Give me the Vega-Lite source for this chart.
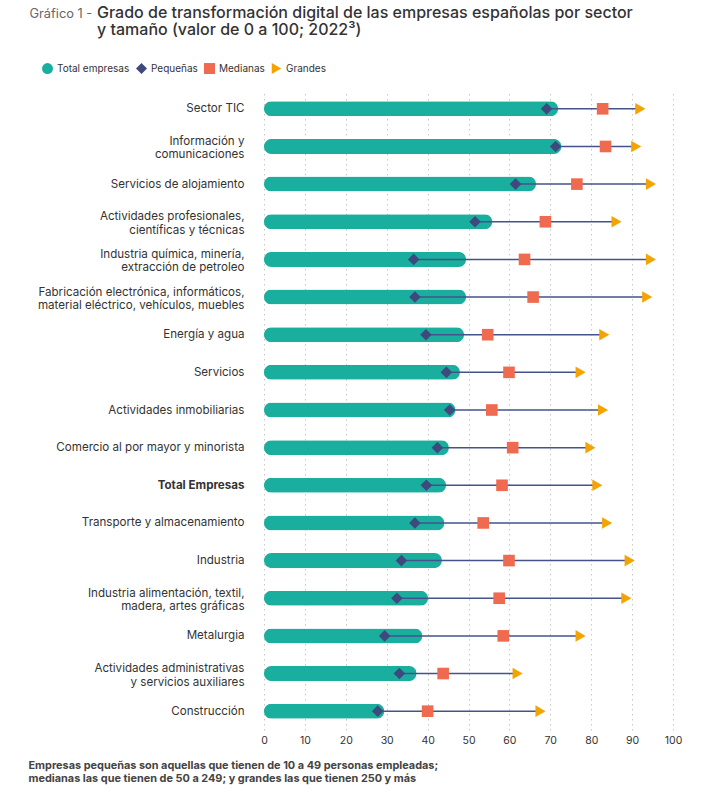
{
  "$schema": "https://vega.github.io/schema/vega-lite/v6.json",
  "autosize": {"type": "none"},
  "padding": {"left": 264, "top": 90, "right": 49, "bottom": 63},
  "width": 409,
  "height": 640,
  "background": "white",
  "config": {"font": "Inter", "view": {"stroke": null}},
  "title": {
    "text": ["Grado de transformación digital de las empresas españolas por sector", "y tamaño (valor de 0 a 100; 2022³)"],
    "anchor": "start",
    "frame": "group",
    "dx": -167,
    "dy": 31,
    "offset": 0,
    "fontSize": 16,
    "fontWeight": 500,
    "color": "#333333",
    "lineHeight": 17.5
  },
  "data": {
    "values": [
      {"sector": "Sector TIC", "total": 71.9, "Pequeñas": 69.1, "Medianas": 82.8, "Grandes": 92.0},
      {"sector": "Información y|comunicaciones", "total": 72.7, "Pequeñas": 71.3, "Medianas": 83.5, "Grandes": 91.0},
      {"sector": "Servicios de alojamiento", "total": 66.5, "Pequeñas": 61.5, "Medianas": 76.5, "Grandes": 94.6},
      {"sector": "Actividades profesionales,|científicas y técnicas", "total": 55.8, "Pequeñas": 51.6, "Medianas": 68.8, "Grandes": 86.2},
      {"sector": "Industria química, minería,|extracción de petroleo", "total": 49.4, "Pequeñas": 36.6, "Medianas": 63.7, "Grandes": 94.6},
      {"sector": "Fabricación electrónica, informáticos,|material eléctrico, vehículos, muebles", "total": 49.4, "Pequeñas": 36.9, "Medianas": 65.8, "Grandes": 93.7},
      {"sector": "Energía y agua", "total": 48.9, "Pequeñas": 39.6, "Medianas": 54.7, "Grandes": 83.2},
      {"sector": "Servicios", "total": 47.9, "Pequeñas": 44.6, "Medianas": 59.9, "Grandes": 77.4},
      {"sector": "Actividades inmobiliarias", "total": 46.8, "Pequeñas": 45.4, "Medianas": 55.7, "Grandes": 82.9},
      {"sector": "Comercio al por mayor y minorista", "total": 45.2, "Pequeñas": 42.4, "Medianas": 60.8, "Grandes": 79.8},
      {"sector": "Total Empresas", "total": 44.5, "Pequeñas": 39.7, "Medianas": 58.2, "Grandes": 81.5},
      {"sector": "Transporte y almacenamiento", "total": 44.1, "Pequeñas": 36.9, "Medianas": 53.6, "Grandes": 83.9},
      {"sector": "Industria", "total": 43.5, "Pequeñas": 33.6, "Medianas": 59.9, "Grandes": 89.4},
      {"sector": "Industria alimentación, textil,|madera, artes gráficas", "total": 40.1, "Pequeñas": 32.5, "Medianas": 57.5, "Grandes": 88.6},
      {"sector": "Metalurgia", "total": 38.7, "Pequeñas": 29.5, "Medianas": 58.5, "Grandes": 77.4},
      {"sector": "Actividades administrativas|y servicios auxiliares", "total": 37.3, "Pequeñas": 33.1, "Medianas": 43.8, "Grandes": 62.0},
      {"sector": "Construcción", "total": 29.4, "Pequeñas": 27.8, "Medianas": 40.0, "Grandes": 67.6}
    ]
  },
  "encoding": {
    "y": {
      "field": "sector",
      "type": "nominal",
      "sort": null,
      "scale": {"paddingInner": 0, "paddingOuter": 0},
      "axis": {
        "title": "Gráfico 1 -",
        "titleX": -235,
        "titleY": -73,
        "titleAngle": 0,
        "titleAlign": "left",
        "titleBaseline": "alphabetic",
        "titleFontSize": 12.8,
        "titleFontWeight": "normal",
        "titleColor": "#666666",
        "labelFontSize": 11.6,
        "labelColor": "#333333",
        "labelPadding": 20,
        "labelLimit": 260,
        "labelLineHeight": 13.5,
        "labelExpr": "split(datum.label, '|')",
        "labelOffset": {"condition": {"test": "indexof(datum.value, '|') >= 0", "value": -4.5}, "value": 0.5},
        "labelFontWeight": {"condition": {"test": "datum.value == 'Total Empresas'", "value": "bold"}, "value": "normal"},
        "domain": false,
        "ticks": false,
        "grid": false
      }
    }
  },
  "layer": [
    {
      "mark": {"type": "bar", "height": 15, "cornerRadius": 7.5, "color": "#1aae9e"},
      "encoding": {
        "x": {
          "field": "total",
          "type": "quantitative",
          "scale": {"domain": [0, 100], "nice": false},
          "axis": {
            "values": [0, 10, 20, 30, 40, 50, 60, 70, 80, 90, 100],
            "grid": true,
            "gridDash": [1.5, 3.5],
            "gridColor": "#c8c8c8",
            "gridWidth": 1,
            "domain": false,
            "ticks": false,
            "labelFlush": false,
            "labelPadding": 5,
            "labelFontSize": 10.5,
            "labelColor": "#333333",
            "title": ["Empresas pequeñas son aquellas que tienen de 10 a 49 personas empleadas;", "medianas las que tienen de 50 a 249; y grandes las que tienen 250 y más"],
            "titleX": -236,
            "titleY": 29,
            "titleAlign": "left",
            "titleBaseline": "top",
            "titleFontSize": 10.9,
            "titleFontWeight": "bold",
            "titleColor": "#444444",
            "titleLineHeight": 13.5
          }
        }
      }
    },
    {
      "mark": {"type": "rule", "color": "#45538a", "strokeWidth": 1.5},
      "encoding": {
        "x": {"field": "Pequeñas", "type": "quantitative"},
        "x2": {"field": "Grandes"}
      }
    },
    {
      "transform": [{"fold": ["Pequeñas", "Medianas", "Grandes"], "as": ["serie", "valor"]}],
      "mark": {"type": "point", "filled": true, "opacity": 1, "size": 135},
      "encoding": {
        "x": {"field": "valor", "type": "quantitative"},
        "color": {
          "field": "serie",
          "type": "nominal",
          "scale": {"domain": ["Total empresas", "Pequeñas", "Medianas", "Grandes"], "range": ["#1aae9e", "#3e4a7e", "#f06a4f", "#f5a300"]},
          "legend": {"orient": "none", "legendX": -223, "legendY": -28, "direction": "horizontal", "title": null, "labelFontSize": 10, "labelColor": "#333333", "symbolSize": 120, "labelOffset": 3, "columnPadding": 3, "padding": 0, "symbolOpacity": 1}
        },
        "shape": {
          "field": "serie",
          "type": "nominal",
          "scale": {"domain": ["Total empresas", "Pequeñas", "Medianas", "Grandes"], "range": ["circle", "diamond", "square", "triangle-right"]},
          "legend": {"orient": "none", "legendX": -223, "legendY": -28, "direction": "horizontal", "title": null, "labelFontSize": 10, "labelColor": "#333333", "symbolSize": 120, "labelOffset": 3, "columnPadding": 3, "padding": 0, "symbolOpacity": 1}
        }
      }
    }
  ]
}
